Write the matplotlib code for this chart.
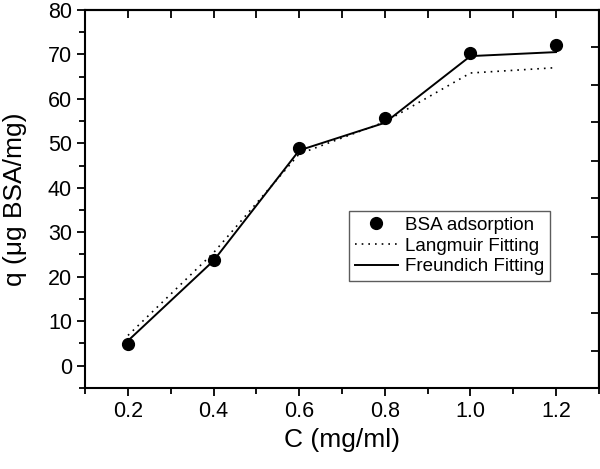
import matplotlib
matplotlib.use('Agg')
import matplotlib.pyplot as plt
from matplotlib.ticker import MultipleLocator

plt.rcParams['font.family'] = ['Liberation Sans', 'DejaVu Sans']

# data
conc = [0.2, 0.4, 0.6, 0.8, 1.0, 1.2]
q_exp = [4.8, 23.8, 49.0, 55.6, 70.4, 72.0]
q_langmuir = [6.8, 25.4, 47.6, 54.8, 65.8, 67.0]
q_freundlich = [5.6, 23.6, 48.4, 54.6, 69.6, 70.5]
right_ticks = [3.4, 11.9, 20.5, 29.0, 37.6, 46.1, 54.7, 63.2, 71.7]

fig = plt.figure(figsize=(6.0, 4.69), dpi=100)
ax = fig.add_axes([0.142, 0.173, 0.856, 0.806])

ax.plot(conc, q_langmuir, color='black', linestyle=(0, (1, 3)), linewidth=1.2,
        label='Langmuir Fitting')
ax.plot(conc, q_freundlich, color='black', linestyle='-', linewidth=1.4,
        label='Freundich Fitting')
ax.plot(conc, q_exp, 'o', color='black', markersize=8.5, linestyle='none',
        label='BSA adsorption')

ax.set_xlim(0.1, 1.3)
ax.set_ylim(-5, 80)
ax.xaxis.set_major_locator(MultipleLocator(0.2))
ax.xaxis.set_minor_locator(MultipleLocator(0.1))
ax.yaxis.set_major_locator(MultipleLocator(10))
ax.yaxis.set_minor_locator(MultipleLocator(5))
ax.set_xticks([0.2, 0.4, 0.6, 0.8, 1.0, 1.2])
ax.set_xticklabels(['0.2', '0.4', '0.6', '0.8', '1.0', '1.2'])

ax.tick_params(axis='both', which='major', direction='out', length=6, width=1.3,
               labelsize=15.5, top=False, right=False)
ax.tick_params(axis='both', which='minor', direction='out', length=4, width=1.3,
               top=False, right=False)
for s in ax.spines.values():
    s.set_linewidth(1.5)

# top ticks pointing in
top = ax.secondary_xaxis('top')
top.set_xticks([0.2, 0.3, 0.4, 0.5, 0.6, 0.7, 0.8, 0.9, 1.0, 1.1, 1.2])
top.tick_params(direction='in', length=6, width=1.3, labeltop=False)
top.spines['top'].set_linewidth(1.5)

# right ticks pointing in
rt = ax.secondary_yaxis('right')
rt.set_yticks(right_ticks)
rt.tick_params(direction='in', length=6, width=1.3, labelright=False)
rt.spines['right'].set_linewidth(1.5)

ax.set_xlabel('C (mg/ml)', fontsize=19, labelpad=4)
ax.set_ylabel('q (\u03bcg BSA/mg)', fontsize=19, labelpad=15)

handles, labels = ax.get_legend_handles_labels()
order = [2, 0, 1]
leg = ax.legend([handles[i] for i in order], [labels[i] for i in order],
                loc='upper left', bbox_to_anchor=(0.514, 0.468), fontsize=13.5,
                frameon=True, fancybox=False, handlelength=2.3, handletextpad=0.4,
                borderpad=0.3, labelspacing=0.2, borderaxespad=0)
leg.get_frame().set_edgecolor('#333333')
leg.get_frame().set_linewidth(1.0)

fig.savefig('out.png', dpi=100)
